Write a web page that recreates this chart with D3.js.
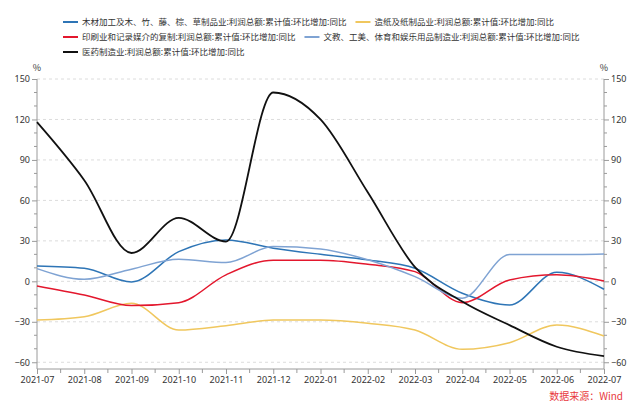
<!DOCTYPE html>
<html>
<head>
<meta charset="utf-8">
<script src="https://cdn.jsdelivr.net/npm/d3@7"></script>
<style>
html,body{margin:0;padding:0;background:#fff;}
svg{display:block;font-family:"Noto Sans CJK SC","Noto Sans",sans-serif;}
</style>
</head>
<body>
<svg id="chart" width="641" height="408"></svg>
<script>
const months = ["2021-07","2021-08","2021-09","2021-10","2021-11","2021-12","2022-01","2022-02","2022-03","2022-04","2022-05","2022-06","2022-07"];
const yTicks = [-60,-30,0,30,60,90,120,150];

const names = [
  "木材加工及木、竹、藤、棕、草制品业:利润总额:累计值:环比增加:同比",
  "造纸及纸制品业:利润总额:累计值:环比增加:同比",
  "印刷业和记录媒介的复制:利润总额:累计值:环比增加:同比",
  "文教、工美、体育和娱乐用品制造业:利润总额:累计值:环比增加:同比",
  "医药制造业:利润总额:累计值:环比增加:同比"
];
const colors = ["#2e75b6","#f0c75e","#e3172d","#7fa3d3","#111111"];

const wood   = [11.4, 9.7, -0.5, 22, 30.7, 24.6, 20, 15.9, 9.7, -8.8, -17.5, 6.7, -5.9];
const paper  = [-28.7, -26.2, -16.3, -36.1, -32.9, -28.7, -28.7, -31.1, -36.1, -50.4, -45.5, -32.4, -40.5];
const print  = [-3.4, -10.1, -18, -15.8, 4.8, 15.7, 15.7, 12.7, 7.2, -15.8, 1, 4.8, 0.3];
const sports = [9.4, 1.5, 9, 16.4, 13.9, 25.8, 24, 16, 3.5, -12.5, 19.8, 19.8, 20.3];
const pharma = [118, 75, 21, 47, 29.5, 140, 120, 66, 10.5, -15, -32.5, -48.5, -55.4];

const seriesValues = [wood, paper, print, sports, pharma];
const legendRows = [[0,1],[2,3],[4]];

const svg = d3.select("#chart");
const x = d3.scaleLinear().domain([0, months.length - 1]).range([37, 604]);
const y = d3.scaleLinear().domain([-65, 150]).range([369, 79]);
const axisColor = "#9a9a9a";
const fontSize = 9;

// gridlines
svg.append("g").selectAll("line").data(yTicks).join("line")
  .attr("x1", x(0)).attr("x2", x(12))
  .attr("y1", d => y(d)).attr("y2", d => y(d))
  .attr("stroke", "#dcdcdc").attr("stroke-dasharray", "3,3").attr("stroke-width", 1);

// left axis
const minorY = d3.range(-60, 151, 10).filter(v => !yTicks.includes(v));
const left = svg.append("g").attr("transform", `translate(${x(0)},0)`);
left.call(d3.axisLeft(y).tickValues(yTicks).tickSize(5).tickPadding(2).tickFormat(d3.format("d")));
left.append("g").selectAll("line").data(minorY).join("line")
  .attr("x1", -3).attr("x2", 0).attr("y1", d => y(d)).attr("y2", d => y(d));
const right = svg.append("g").attr("transform", `translate(${x(12)},0)`);
right.call(d3.axisRight(y).tickValues(yTicks).tickSize(5).tickPadding(2).tickFormat(d3.format("d")));
right.append("g").selectAll("line").data(minorY).join("line")
  .attr("x1", 0).attr("x2", 3).attr("y1", d => y(d)).attr("y2", d => y(d));

// bottom axis
const bottom = svg.append("g").attr("transform", `translate(0,${y(-65)})`);
bottom.call(d3.axisBottom(x).tickValues(d3.range(0, 13)).tickSize(5).tickPadding(3).tickFormat(i => months[i]));
bottom.append("g").selectAll("line").data(d3.range(0.5, 12, 1)).join("line")
  .attr("x1", d => x(d)).attr("x2", d => x(d)).attr("y1", 0).attr("y2", 4);

[left, right, bottom].forEach(g => {
  g.selectAll("line").attr("stroke", axisColor);
  g.selectAll("text").attr("fill", "#333").style("font-size", fontSize + "px")
    .style("font-family", "'Noto Sans','Open Sans',sans-serif");
  g.select(".domain").remove();
});
svg.append("line").attr("x1", x(0)).attr("x2", x(0)).attr("y1", y(150)).attr("y2", y(-65)).attr("stroke", axisColor);
svg.append("line").attr("x1", x(12)).attr("x2", x(12)).attr("y1", y(150)).attr("y2", y(-65)).attr("stroke", axisColor);
svg.append("line").attr("x1", x(0)).attr("x2", x(12)).attr("y1", y(-65)).attr("y2", y(-65)).attr("stroke", axisColor);

// % units
svg.append("text").attr("x", x(0)).attr("y", 71).attr("text-anchor", "middle")
  .attr("fill", "#333").style("font-size", fontSize + "px").text("%");
svg.append("text").attr("x", x(12)).attr("y", 71).attr("text-anchor", "middle")
  .attr("fill", "#333").style("font-size", fontSize + "px").text("%");

// lines
const line = d3.line().x((d, i) => x(i)).y(d => y(d)).curve(d3.curveMonotoneX);
svg.append("g").selectAll("path").data(seriesValues).join("path")
  .attr("d", d => line(d))
  .attr("fill", "none")
  .attr("stroke", (d, i) => colors[i])
  .attr("stroke-width", (d, i) => i === 4 ? 1.8 : 1.5)
  .attr("stroke-linejoin", "round");

// legend (flow layout)
const leg = svg.append("g");
legendRows.forEach((row, r) => {
  let cx = 63;
  const cy = 22 + r * 15;
  row.forEach(i => {
    leg.append("line").attr("x1", cx).attr("x2", cx + 15).attr("y1", cy).attr("y2", cy)
      .attr("stroke", colors[i]).attr("stroke-width", 2);
    const t = leg.append("text").attr("x", cx + 19).attr("y", cy).attr("dy", "0.35em")
      .attr("fill", "#333").style("font-size", "8.5px").text(names[i]);
    cx += 19 + t.node().getComputedTextLength() + 9;
  });
});

// source
svg.append("text").attr("x", 623).attr("y", 400).attr("text-anchor", "end")
  .attr("fill", "#e8383d").style("font-size", "10px").text("数据来源：Wind");
</script>
</body>
</html>
